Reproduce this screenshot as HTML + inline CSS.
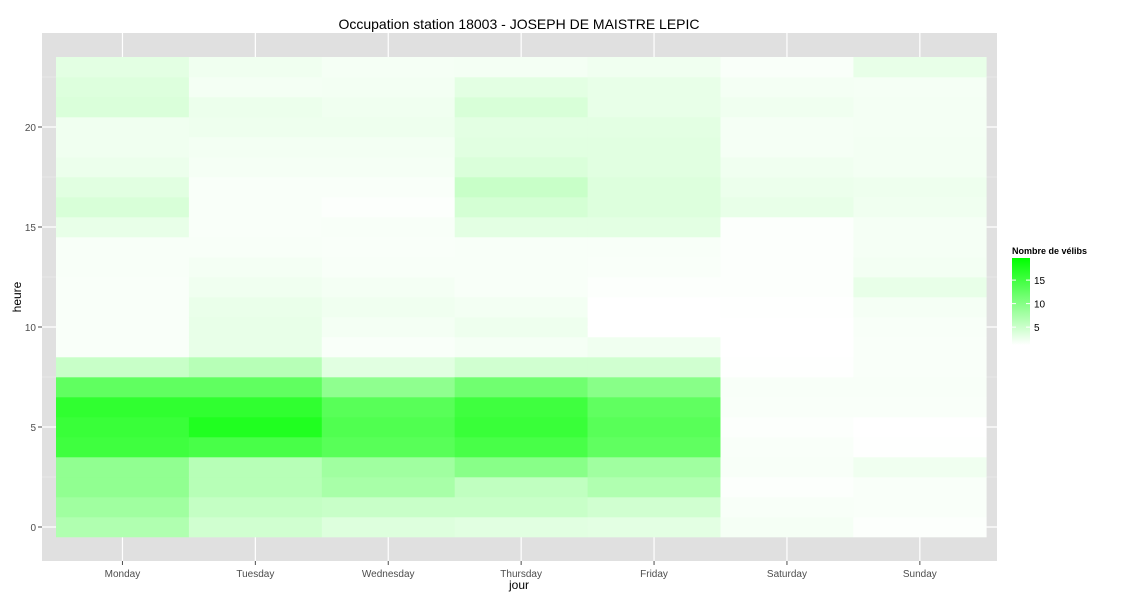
<!DOCTYPE html>
<html><head><meta charset="utf-8"><style>
body{margin:0;background:#fff;font-family:"Liberation Sans",sans-serif;}
svg{display:block}
</style></head><body>
<svg id="chart" width="1125" height="600">
<text x="519" y="29" text-anchor="middle" font-size="14" fill="#000">Occupation station 18003 - JOSEPH DE MAISTRE LEPIC</text>
<rect x="42" y="33" width="955" height="528" fill="#e0e0e0"/>
<g id="grid"></g>
<g id="tiles"></g>
<g id="axes"></g>
<text x="519" y="589" text-anchor="middle" font-size="12">jour</text>
<text x="21" y="297" text-anchor="middle" font-size="12" transform="rotate(-90 21 297)">heure</text>
<g>
<text x="1012" y="254" font-size="9" font-weight="bold">Nombre de vélibs</text>
<defs><linearGradient id="lg" x1="0" y1="1" x2="0" y2="0"><stop offset="0" stop-color="#ffffff"/><stop offset="1" stop-color="#00ff00"/></linearGradient></defs>
<rect x="1012" y="258" width="18" height="87" fill="url(#lg)"/>
<g id="legend-ticks"></g>
</g>
</svg>
<script>
const days = ["Monday","Tuesday","Wednesday","Thursday","Friday","Saturday","Sunday"];
const hours = [0,1,2,3,4,5,6,7,8,9,10,11,12,13,14,15,16,17,18,19,20,21,22,23];
const yTicks = [0,5,10,15,20];
const legendTicks = [5,10,15];
const monday = [6.9,8.1,9.2,9.2,15.1,15.6,16.2,12.7,5.2,1.6,1.6,1.6,1.6,1.7,1.7,2.9,4.0,3.4,2.6,2.3,2.3,3.9,3.7,3.2];
const tuesday = [4.6,5.5,6.4,6.4,14.5,17.4,16.2,12.7,6.4,2.9,2.9,2.7,2.3,2.0,1.7,1.6,1.6,1.6,1.9,2.1,2.4,2.6,2.0,2.3];
const wednesday = [3.7,5.2,7.5,8.1,13.3,13.9,13.3,9.3,3.4,1.6,2.0,2.3,2.0,1.7,1.6,1.7,1.4,1.6,1.9,2.1,2.4,2.3,2.1,1.9];
const thursday = [3.4,5.2,5.8,9.8,14.5,15.6,15.1,11.6,4.6,1.9,2.4,2.1,1.7,1.7,1.7,3.2,4.3,5.2,3.9,3.4,3.2,4.0,3.2,2.0];
const friday = [3.2,4.6,6.9,8.1,12.7,13.3,12.7,9.8,4.6,2.3,1.2,1.2,1.4,1.6,1.7,3.2,3.7,3.7,3.4,3.4,3.2,2.9,2.9,2.3];
const saturday = [1.9,1.7,1.4,1.7,1.6,1.4,1.6,1.7,1.3,1.2,1.2,1.3,1.4,1.4,1.4,1.4,2.9,2.6,2.3,1.9,1.9,2.3,2.0,1.6];
const sunday = [1.4,1.6,1.6,2.3,1.3,1.2,1.6,1.7,1.6,1.6,1.7,1.9,2.9,2.1,1.9,1.9,2.3,2.4,2.1,2.1,2.0,2.0,1.9,2.9];
const series = [monday,tuesday,wednesday,thursday,friday,saturday,sunday];
const vMin = 1.2, vMax = 19.7;

const NS = "http://www.w3.org/2000/svg";
const tileL = 56, tileW = 132.9;
function xScale(i){ return tileL + tileW*(i+0.5); }
function yScale(h){ return 527 - h*20; }
function color(v){ let t=Math.max(0,Math.min(1,(v-vMin)/(vMax-vMin))); let c=Math.round(255*(1-t)); return `rgb(${c},255,${c})`; }
function mk(tag, attrs, parent){ const e=document.createElementNS(NS,tag); for(const k in attrs) e.setAttribute(k,attrs[k]); parent.appendChild(e); return e; }

const grid = document.getElementById('grid');
for (let i=0;i<yTicks.length;i++){
  const y=yScale(yTicks[i]);
  const l=mk('line',{x1:42,x2:997,y1:y,y2:y,stroke:'#fff','stroke-width':1.2},grid);
  
  
  const m=mk('line',{x1:42,x2:997,y1:y-50,y2:y-50,stroke:'#f2f2f2','stroke-width':0.6},grid);
  
  
}
for (let i=0;i<days.length;i++){
  const x=xScale(i);
  const l=mk('line',{x1:x,x2:x,y1:33,y2:561,stroke:'#fff','stroke-width':1.2},grid);
  
  
}
const tiles=document.getElementById('tiles');
for (let d=0; d<days.length; d++){
  for (let h=0; h<hours.length; h++){
    const v=series[d][h];
    const r=mk('rect',{x:(xScale(d)-tileW/2).toFixed(2),y:yScale(hours[h])-10,width:(tileW+0.3).toFixed(2),height:20.3,fill:color(v)},tiles);
    
    
  }
}
const axes=document.getElementById('axes');
for (let i=0;i<yTicks.length;i++){
  const y=yScale(yTicks[i]);
  const t=mk('text',{x:36,y:y+4,'text-anchor':'end','font-size':10,fill:'#4d4d4d'},axes);
  t.textContent=yTicks[i];
  
  
  const k=mk('line',{x1:38,x2:42,y1:y,y2:y,stroke:'#4d4d4d'},axes);
  
  
}
for (let i=0;i<days.length;i++){
  const x=xScale(i);
  const t=mk('text',{x:x,y:577,'text-anchor':'middle','font-size':10,fill:'#4d4d4d'},axes);
  t.textContent=days[i];
  
  
  const k=mk('line',{x1:x,x2:x,y1:561,y2:565,stroke:'#4d4d4d'},axes);
  
  
}
const lt=document.getElementById('legend-ticks');
for (let i=0;i<legendTicks.length;i++){
  const y=345 - (legendTicks[i]-vMin)/(vMax-vMin)*87;
  const t=mk('text',{x:1034,y:y+4,'font-size':10,fill:'#000'},lt);
  t.textContent=legendTicks[i];
  
  
  const a=mk('line',{x1:1012,x2:1016,y1:y,y2:y,stroke:'#fff'},lt);
  
  
  const b=mk('line',{x1:1026,x2:1030,y1:y,y2:y,stroke:'#fff'},lt);
  
  
}
</script>
</body></html>
